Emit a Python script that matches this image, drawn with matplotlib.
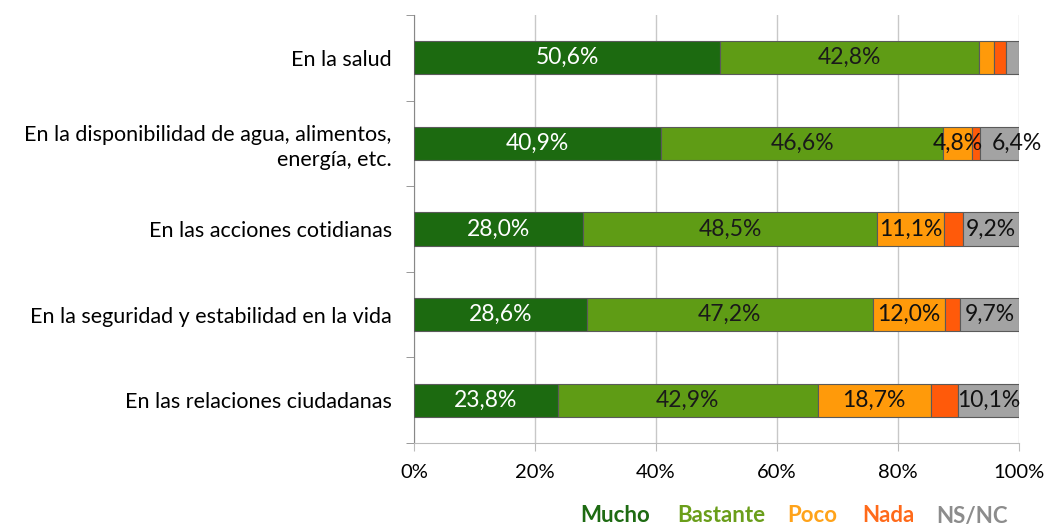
import numpy as np
import matplotlib.pyplot as plt

plt.rcParams['font.family'] = ['Lato', 'DejaVu Sans']

categories = [
    "En la salud",
    "En la disponibilidad de agua, alimentos,\nenergía, etc.",
    "En las acciones cotidianas",
    "En la seguridad y estabilidad en la vida",
    "En las relaciones ciudadanas",
]
series_names = ["Mucho", "Bastante", "Poco", "Nada", "NS/NC"]
mucho = [50.6, 40.9, 28.0, 28.6, 23.8]
bastante = [42.8, 46.6, 48.5, 47.2, 42.9]
poco = [2.5, 4.8, 11.1, 12.0, 18.7]
nada = [1.9, 1.3, 3.2, 2.5, 4.5]
nsnc = [2.2, 6.4, 9.2, 9.7, 10.1]
# which segments get a printed label
show_poco = [False, True, True, True, True]
show_nsnc = [False, True, True, True, True]

colors = ["#1c6a10", "#5f9c15", "#ff9a0a", "#ff5a0a", "#a3a3a3"]
text_colors = ["#1e6b12", "#6a9e1a", "#ffa31a", "#ff6a1a", "#8c8c8c"]

fig = plt.figure(figsize=(10.44, 5.25), dpi=100)
ax = fig.add_axes([414 / 1044, 1 - 443 / 525, 605 / 1044, 428 / 525])

y = np.arange(len(categories))
values = [mucho, bastante, poco, nada, nsnc]
left = np.zeros(len(categories))
lab_fs = 16.5
for i, vals in enumerate(values):
    vals = np.array(vals)
    ax.barh(y, vals, left=left, height=0.39, color=colors[i],
            edgecolor="#5a5a5a", linewidth=0.8, zorder=3)
    for j, v in enumerate(vals):
        cx = left[j] + v / 2
        txt = f"{v:.1f}%".replace(".", ",")
        if i == 0:
            ax.text(cx, y[j], txt, ha="center", va="center", color="white",
                    fontsize=lab_fs, zorder=4)
        elif i == 1:
            ax.text(cx, y[j], txt, ha="center", va="center", color="#1a1a1a",
                    fontsize=lab_fs, zorder=4)
        elif i == 2 and show_poco[j]:
            ax.text(cx, y[j], txt, ha="center", va="center", color="#111111",
                    fontsize=lab_fs, zorder=4)
        elif i == 4 and show_nsnc[j]:
            # narrow segment: Excel nudged this label right of the neighbour
            if v < 8:
                cx = left[j] + v * 0.95
            ax.text(cx, y[j], txt, ha="center", va="center", color="#111111",
                    fontsize=lab_fs, zorder=4)
    left += vals

ax.set_xlim(0, 100)
ax.set_ylim(len(categories) - 0.5, -0.5)
ax.set_xticks(np.arange(0, 101, 20))
ax.set_xticklabels([f"{t}%" for t in range(0, 101, 20)], fontsize=14.5)
ax.set_yticks(y)
ax.set_yticklabels(categories, fontsize=15.5, linespacing=1.3)
ax.set_yticks(np.arange(-0.5, len(categories)), minor=True)
ax.tick_params(axis="y", which="major", length=0, pad=16)
ax.tick_params(axis="y", which="minor", length=6, color="#888888")
ax.tick_params(axis="x", length=6, color="#bbbbbb", pad=9)
ax.grid(axis="x", color="#c8c8c8", linewidth=1, zorder=0)
for s in ["top", "right"]:
    ax.spines[s].set_visible(False)
ax.spines["left"].set_color("#888888")
ax.spines["bottom"].set_color("#bbbbbb")

legend_x = [580, 677, 787, 862, 936]
for name, tc, lx in zip(series_names, text_colors, legend_x):
    fig.text(lx / 1044, 1 - 516 / 525, name, color=tc, fontsize=16,
             fontweight="bold", ha="left", va="center")

fig.savefig("out.png", dpi=100)
